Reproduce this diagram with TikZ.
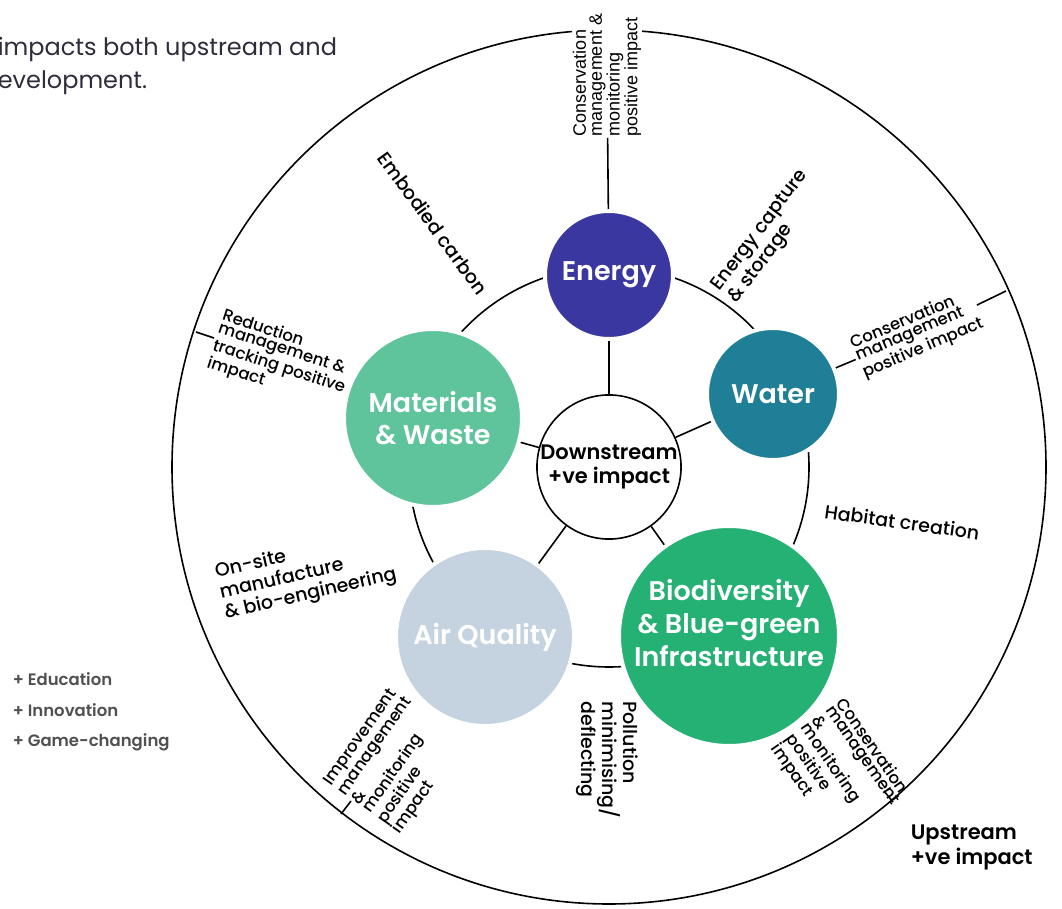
\documentclass[tikz,border=0pt]{standalone}
\usepackage{fontspec}
\setmainfont{Poppins}
\newfontfamily\medfont{Poppins}[UprightFont={* Medium},BoldFont={* SemiBold}]
\newfontfamily\arialfont{Liberation Sans}
\usetikzlibrary{positioning}

\definecolor{energyc}{RGB}{59,55,160}
\definecolor{waterc}{RGB}{31,127,150}
\definecolor{materialc}{RGB}{95,196,156}
\definecolor{airc}{RGB}{197,211,225}
\definecolor{bioc}{RGB}{37,176,116}
\definecolor{notec}{RGB}{80,80,80}
\definecolor{introc}{RGB}{45,45,60}

\begin{document}
\begin{tikzpicture}[x=1pt,y=1pt,line width=1.6pt,
    theme/.style={circle,draw=white,line width=4pt,text=white,align=center,inner sep=0pt,
      font=\medfont\bfseries\fontsize{27}{32}\selectfont},
    spoke/.style={inner sep=1pt,align=left,font=\medfont\fontsize{16.5}{13.5}\selectfont},
    gap/.style={align=left,inner sep=0pt,font=\medfont\fontsize{19}{21}\selectfont}]
  \useasboundingbox (0,0) rectangle (1062,908);
  \coordinate (O) at (609,441);

  % outer and inner ring
  \draw (O) circle[radius=437];
  \draw (O) circle[radius=200];

  % themes
  \node[theme,fill=energyc,minimum size=128]   (energy)    at (609,633) {Energy};
  \node[theme,fill=waterc,minimum size=132]    (water)     at (773,514) {Water};
  \node[theme,fill=materialc,minimum size=178] (materials) at (433,490) {Materials\\\& Waste};
  \node[theme,fill=airc,minimum size=178]      (air)       at (485,271) {Air Quality};
  \node[theme,fill=bioc,minimum size=220,
        label={[yshift=13pt,text=white,align=center,font=\medfont\bfseries\fontsize{27}{33}\selectfont]center:Biodiversity\\\& Blue-green\\Infrastructure}]
                                               (bio)       at (729,272) {};
  \node[circle,draw=black,fill=white,minimum size=144,inner sep=0pt,align=center,
        font=\medfont\bfseries\fontsize{21}{24}\selectfont] (ctr) at (O) {Downstream\\+ve impact};

  \foreach \t in {energy,water,materials,air,bio}
    \draw (ctr) -- (\t);

  % labels on the outer spokes
  \node[spoke,fill=white,font=\arialfont\fontsize{18}{16}\selectfont,rotate=90] (lEnergy) at (607,833)
    {Conservation\\management \&\\monitoring\\positive impact};
  \node[spoke,rotate=23]  (lWater)     at (917,574) {Conservation\\management\\positive impact};
  \node[spoke,rotate=-18] (lMaterials) at (281,547) {Reduction\\management \&\\tracking positive\\impact};
  \node[spoke,rotate=55]  (lAir)       at (396,147) {Improvement\\management\\\&\\monitoring\\positive\\impact};
  \node[spoke,rotate=-55,font=\medfont\fontsize{16.5}{13}\selectfont]
                          (lBio)       at (840,137) {Conservation\\management\\\&\\monitoring\\positive\\impact};

  % ticks where the spokes meet the outer ring
  \coordinate (tWater)     at (1006,617);
  \coordinate (tMaterials) at (196,576);
  \coordinate (sMaterials) at (214,570);
  \coordinate (tAir)       at (341,94);
  \coordinate (sAir)       at (351,107);
  \coordinate (tBio)       at (893,106);
  \coordinate (sBio)       at (884,117);

  \draw (energy) -- (lEnergy);
  \draw (water) -- (lWater) -- (tWater);
  \draw (sMaterials) -- (tMaterials);
  \draw (sAir) -- (tAir);
  \draw (sBio) -- (tBio);

  % labels between the themes
  \node[gap,rotate=-54] (lCarbon)    at (433,685) {Embodied carbon};
  \node[gap,rotate=53]  (lCapture)   at (769,671) {Energy capture\\\& storage};
  \node[gap,rotate=-8]  (lHabitat)   at (902,386) {Habitat creation};
  \node[gap,rotate=-90] (lPollution) at (607,148) {Pollution\\minimising/\\deflecting};
  \node[gap,rotate=13]  (lOnsite)    at (306,334) {On-site\\manufacture\\\& bio-engineering};

  % side texts
  \node[anchor=west,align=left,inner sep=0pt,font=\medfont\bfseries\fontsize{21}{25}\selectfont]
    (upstream) at (910,61) {Upstream\\+ve impact};
  \node[anchor=west,align=left,inner sep=0pt,text=notec,font=\medfont\bfseries\fontsize{16.5}{30.5}\selectfont]
    (extras) at (12,196) {+ Education\\+ Innovation\\+ Game-changing};
  \node[anchor=north west,align=left,inner sep=0pt,text=introc,font=\fontsize{24}{33}\selectfont]
    (intro) at (-3,872) {impacts both upstream and\\evelopment.};
\end{tikzpicture}
\end{document}
